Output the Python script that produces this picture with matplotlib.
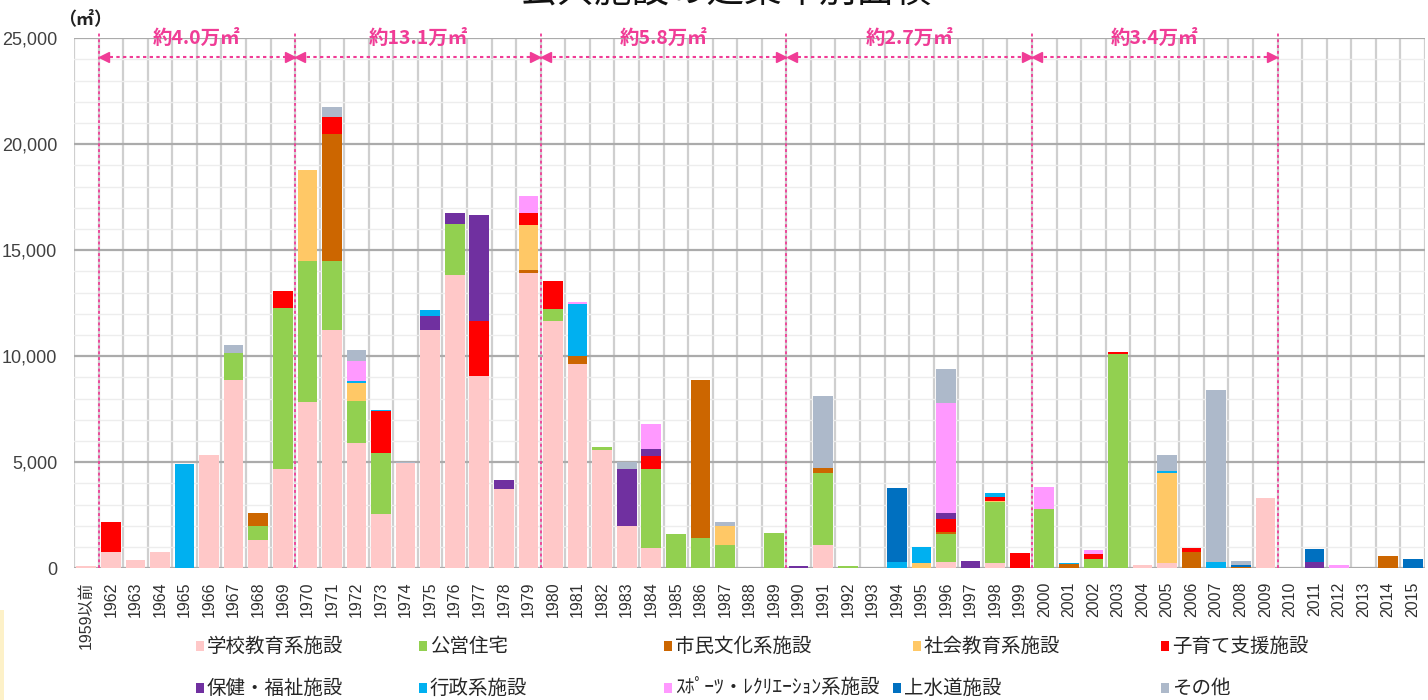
import numpy as np
import matplotlib
matplotlib.use("Agg")
import matplotlib.pyplot as plt
import matplotlib.transforms as mtransforms
from matplotlib import font_manager
from matplotlib.patches import Rectangle
from matplotlib.ticker import FuncFormatter, MultipleLocator

# ---------------------------------------------------------------- data (㎡)
years = ["1959以前",
         "1962", "1963", "1964", "1965", "1966", "1967", "1968", "1969",
         "1970", "1971", "1972", "1973", "1974", "1975", "1976", "1977", "1978", "1979",
         "1980", "1981", "1982", "1983", "1984", "1985", "1986", "1987", "1988", "1989",
         "1990", "1991", "1992", "1993", "1994", "1995", "1996", "1997", "1998", "1999",
         "2000", "2001", "2002", "2003", "2004", "2005", "2006", "2007", "2008", "2009",
         "2010", "2011", "2012", "2013", "2014", "2015"]

school = [100,
          750, 400, 750, 0, 5350, 8900, 1350, 4700,
          7850, 11250, 5900, 2550, 4950, 11250, 13850, 9050, 3750, 13950,
          11650, 9650, 5600, 2000, 950, 0, 0, 0, 0, 0,
          0, 1100, 0, 0, 0, 0, 280, 0, 230, 0,
          0, 0, 0, 0, 150, 250, 0, 0, 0, 3300,
          0, 0, 0, 0, 0, 0]
housing = [0,
           0, 0, 0, 0, 0, 1250, 650, 7600,
           6650, 3250, 2000, 2900, 0, 0, 2400, 0, 0, 0,
           600, 0, 100, 0, 3750, 1600, 1450, 1100, 0, 1650,
           0, 3380, 100, 0, 0, 0, 1320, 0, 2880, 0,
           2800, 0, 440, 10100, 0, 0, 0, 0, 0, 0,
           0, 0, 0, 0, 0, 0]
culture = [0,
           0, 0, 0, 0, 0, 0, 600, 0,
           0, 6000, 0, 0, 0, 0, 0, 0, 0, 100,
           0, 350, 0, 0, 0, 0, 7450, 0, 0, 0,
           0, 265, 0, 0, 0, 0, 100, 0, 0, 0,
           0, 180, 0, 0, 0, 0, 750, 0, 80, 0,
           0, 0, 0, 0, 600, 0]
social_edu = [0,
              0, 0, 0, 0, 0, 0, 0, 0,
              4300, 0, 850, 0, 0, 0, 0, 0, 0, 2150,
              0, 0, 0, 0, 0, 0, 0, 900, 0, 0,
              0, 0, 0, 0, 0, 240, 0, 0, 80, 0,
              0, 0, 0, 0, 0, 4250, 0, 0, 0, 0,
              0, 0, 0, 0, 0, 0]
childcare = [0,
             1450, 0, 0, 0, 0, 0, 0, 800,
             0, 800, 0, 1950, 0, 0, 0, 2600, 0, 550,
             1300, 0, 0, 0, 600, 0, 0, 0, 0, 0,
             0, 0, 0, 0, 0, 0, 610, 0, 190, 700,
             0, 0, 230, 100, 0, 0, 220, 0, 0, 0,
             0, 0, 0, 0, 0, 0]
welfare = [0,
           0, 0, 0, 0, 0, 0, 0, 0,
           0, 0, 0, 0, 0, 650, 500, 5000, 400, 0,
           0, 0, 0, 2700, 350, 0, 0, 0, 0, 0,
           100, 0, 0, 0, 0, 0, 280, 350, 0, 0,
           0, 0, 0, 0, 0, 0, 0, 0, 0, 0,
           0, 300, 0, 0, 0, 0]
admin = [0,
         0, 0, 0, 4900, 0, 0, 0, 0,
         0, 0, 100, 80, 0, 300, 0, 0, 0, 0,
         0, 2450, 0, 0, 0, 0, 0, 0, 0, 0,
         0, 0, 0, 0, 300, 780, 0, 0, 160, 0,
         0, 80, 0, 0, 0, 100, 0, 300, 0, 0,
         0, 0, 0, 0, 0, 0]
sports = [0,
          0, 0, 0, 0, 0, 0, 0, 0,
          0, 0, 950, 0, 0, 0, 0, 0, 0, 800,
          0, 100, 0, 0, 1150, 0, 0, 0, 0, 0,
          0, 0, 0, 0, 0, 0, 5210, 0, 0, 0,
          1020, 0, 190, 0, 0, 0, 0, 0, 0, 0,
          0, 0, 150, 0, 0, 0]
water = [0,
         0, 0, 0, 0, 0, 0, 0, 0,
         0, 0, 0, 0, 0, 0, 0, 0, 0, 0,
         0, 0, 0, 0, 0, 0, 0, 0, 0, 0,
         0, 0, 0, 0, 3470, 0, 0, 0, 0, 0,
         0, 0, 0, 0, 0, 0, 0, 0, 80, 0,
         0, 600, 0, 0, 0, 450]
other = [0,
         0, 0, 0, 0, 0, 400, 0, 0,
         0, 450, 500, 0, 50, 0, 0, 0, 0, 0,
         0, 0, 0, 300, 0, 0, 0, 200, 0, 0,
         0, 3380, 0, 0, 0, 0, 1600, 0, 0, 0,
         0, 0, 0, 0, 0, 750, 0, 8100, 180, 0,
         0, 0, 0, 0, 0, 0]

series_names = ["学校教育系施設", "公営住宅", "市民文化系施設", "社会教育系施設", "子育て支援施設",
                "保健・福祉施設", "行政系施設", "ｽﾎﾟｰﾂ・ﾚｸﾘｴｰｼｮﾝ系施設", "上水道施設", "その他"]
series_values = [school, housing, culture, social_edu, childcare,
                 welfare, admin, sports, water, other]
series_colors = ["#FFC8C8", "#92D050", "#CC6600", "#FFC866", "#FF0000",
                 "#7030A0", "#00B0F0", "#FF99FF", "#0070C0", "#ADB9CA"]

# construction periods with their approximate total floor area
period_first = ["1962", "1970", "1980", "1990", "2000"]
period_last = ["1969", "1979", "1989", "1999", "2009"]
period_labels = ["約4.0万㎡", "約13.1万㎡", "約5.8万㎡", "約2.7万㎡", "約3.4万㎡"]

# ---------------------------------------------------------------- fonts
installed = {f.name for f in font_manager.fontManager.ttflist}
NUM_FONT = "Liberation Sans Narrow" if "Liberation Sans Narrow" in installed else "Liberation Sans"
JP = "Noto Sans CJK JP"
plt.rcParams["font.family"] = [JP, "DejaVu Sans"]

PINK = "#F03C96"
W, H = 1428, 700

fig = plt.figure(figsize=(W / 100, H / 100), dpi=100)
fig.patch.set_facecolor("white")
ax = fig.add_axes([74 / W, 1 - 568.3 / H, (1425 - 74) / W, (568.3 - 38.3) / H])

# ---------------------------------------------------------------- stacked bars
x = np.arange(len(years))
bottom = np.zeros(len(years))
for vals, col in zip(series_values, series_colors):
    v = np.asarray(vals, dtype=float)
    ax.bar(x, v, bottom=bottom, width=0.8, color=col, linewidth=0, zorder=3)
    bottom += v

# ---------------------------------------------------------------- axes & grid
ax.set_xlim(-0.5, len(years) - 0.5)
ax.set_ylim(0, 25000)
ax.yaxis.set_major_locator(MultipleLocator(5000))
ax.yaxis.set_minor_locator(MultipleLocator(1000))
ax.set_xticks(x)
ax.set_xticks(np.arange(-0.5, len(years), 1), minor=True)
ax.grid(which="minor", axis="y", color="#EDEDED", lw=1.0)
ax.grid(which="minor", axis="x", color="#CFCFCF", lw=1.6)
ax.grid(which="major", axis="y", color="#ABABAB", lw=1.6)
ax.grid(which="major", axis="x", visible=False)
ax.set_axisbelow(True)
for s in ax.spines.values():
    s.set_visible(False)
ax.tick_params(which="both", length=0)
ax.tick_params(axis="y", pad=12, labelsize=13, labelcolor="#404040")
ax.tick_params(axis="x", pad=9.5, labelcolor="#303030")
ax.yaxis.set_major_formatter(FuncFormatter(lambda v, p: f"{int(v):,}"))
for lab in ax.get_yticklabels():
    lab.set_family([NUM_FONT, "DejaVu Sans"])
ax.set_xticklabels(years, rotation=90, fontsize=11.5, family=[NUM_FONT, JP])

# ---------------------------------------------------------------- period markers
trans = mtransforms.blended_transform_factory(ax.transData, ax.transAxes)
arrow_y = (568.3 - 57.3) / 530.0
dots = (0, (1.6, 1.6))
bounds = set()
for first, last, label in zip(period_first, period_last, period_labels):
    x0 = years.index(first) - 0.5
    x1 = years.index(last) + 0.5
    bounds.update([x0, x1])
    ax.plot([x0 + 0.2, x1 - 0.2], [arrow_y, arrow_y], transform=trans, color=PINK,
            lw=1.5, ls=dots, clip_on=False, zorder=5)
    ax.plot([x0 + 0.22], [arrow_y], transform=trans, marker="<", ms=7.5, color=PINK,
            mec=PINK, clip_on=False, zorder=6)
    ax.plot([x1 - 0.22], [arrow_y], transform=trans, marker=">", ms=7.5, color=PINK,
            mec=PINK, clip_on=False, zorder=6)
    ax.text((x0 + x1) / 2, 1.0, label, transform=trans, ha="center", va="center",
            color=PINK, fontsize=14, fontweight="bold", zorder=6)
for b in sorted(bounds):
    ax.plot([b, b], [0, 1.012], transform=trans, color=PINK, lw=1.3, ls=dots,
            clip_on=False, zorder=2.5)

# ---------------------------------------------------------------- texts
fig.text(725 / W, 1 - 2.3 / H, "公共施設の建築年別面積", ha="center", va="baseline",
         fontsize=27, color="#111111")
fig.text(85 / W, 1 - 19 / H, "（㎡）", ha="center", va="center", fontsize=13,
         fontweight="bold", color="#222222")

# ---------------------------------------------------------------- legend
legend_xy = [(200, 646), (423, 646), (668, 646), (917, 646), (1165, 646),
             (200, 688), (423, 688), (668, 688), (897, 688), (1165, 688)]
for name, col, (px, py) in zip(series_names, series_colors, legend_xy):
    fig.patches.append(Rectangle(((px - 4) / W, 1 - (py + 5) / H), 8 / W, 10 / H,
                                 transform=fig.transFigure, color=col, lw=0))
    fig.text((px + 7) / W, 1 - py / H, name, ha="left", va="center",
             fontsize=14, color="#262626")

# faint tinted strip along the lower left edge
fig.patches.append(Rectangle((0, 0), 4 / W, 90 / H, transform=fig.transFigure,
                             color="#FDF1C8", lw=0))

fig.savefig("out.png", dpi=100)
